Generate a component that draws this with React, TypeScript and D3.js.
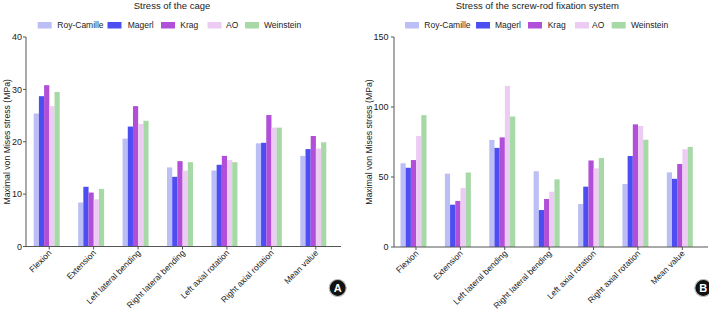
import React from "react";
import * as d3 from "d3";

const categories = [
  "Flexion",
  "Extension",
  "Left lateral bending",
  "Right lateral bending",
  "Left axial rotation",
  "Right axial rotation",
  "Mean value",
];
const seriesNames = ["Roy-Camille", "Magerl", "Krag", "AO", "Weinstein"];
const seriesColors = ["#bcbff5", "#4d4ef2", "#b14fd8", "#ecccf2", "#a6d9a6"];

// Stress of the cage (MPa), per series, per category
const cageRoyCamille = [25.4, 8.4, 20.6, 15.1, 14.5, 19.7, 17.3];
const cageMagerl = [28.7, 11.4, 22.9, 13.3, 15.6, 19.8, 18.6];
const cageKrag = [30.8, 10.3, 26.8, 16.3, 17.3, 25.1, 21.1];
const cageAO = [26.8, 9.0, 23.4, 14.5, 16.5, 22.7, 18.7];
const cageWeinstein = [29.5, 11.0, 24.0, 16.1, 16.1, 22.7, 19.9];

// Stress of the screw-rod fixation system (MPa)
const rodRoyCamille = [59.8, 52.4, 76.5, 54.1, 30.7, 45.0, 53.3];
const rodMagerl = [56.6, 30.2, 70.8, 26.4, 43.1, 65.0, 48.7];
const rodKrag = [62.1, 32.9, 78.3, 34.3, 61.8, 87.6, 59.3];
const rodAO = [79.3, 42.1, 115.1, 39.5, 56.2, 86.4, 69.8];
const rodWeinstein = [94.2, 53.2, 93.2, 48.3, 63.6, 76.6, 71.5];

const cageTicks = [0, 10, 20, 30, 40];
const rodTicks = [0, 50, 100, 150];

const FONT = "'Liberation Sans', Arial, sans-serif";

type PanelProps = {
  title: string;
  titleX: number;
  series: number[][];
  yMax: number;
  yTicks: number[];
  axisX: number;
  axisEnd: number;
  bandRange: [number, number];
  yRange: [number, number];
  legendSwatchX: number[];
  legendTextX: number[];
  yLabelOffset: number;
  tickLabelGap: number;
  badge: string;
  badgeX: number;
};

function Panel(p: PanelProps) {
  const x = d3.scaleBand<string>().domain(categories).range(p.bandRange).padding(0);
  const inner = d3
    .scaleBand<string>()
    .domain(seriesNames)
    .range([-15.5, 10.5])
    .padding(0);
  const y = d3.scaleLinear().domain([0, p.yMax]).range(p.yRange);
  const base = y(0);
  const axisColor = "#555";
  return (
    <g>
      <text
        x={p.titleX}
        y={9}
        textAnchor="middle"
        fontSize={9.5}
        fill="#222"
        fontFamily={FONT}
      >
        {p.title}
      </text>
      {seriesNames.map((s, i) => (
        <g key={s}>
          <rect x={p.legendSwatchX[i]} y={22} width={14} height={6.5} fill={seriesColors[i]} />
          <text
            x={p.legendTextX[i]}
            y={28.2}
            fontSize={8.5}
            fill="#222"
            fontFamily={FONT}
          >
            {s}
          </text>
        </g>
      ))}
      {/* bars */}
      {categories.map((c, ci) => {
        const cx = (x(c) as number) + x.bandwidth() / 2;
        return (
          <g key={c}>
            {seriesNames.map((s, si) => {
              const v = p.series[si][ci];
              return (
                <rect
                  key={s}
                  x={cx + (inner(s) as number)}
                  y={y(v)}
                  width={inner.bandwidth()}
                  height={base - y(v)}
                  fill={seriesColors[si]}
                />
              );
            })}
          </g>
        );
      })}
      {/* y axis */}
      <line x1={p.axisX} x2={p.axisX} y1={y(p.yMax)} y2={base} stroke={axisColor} strokeWidth={1} />
      {p.yTicks.map((t) => (
        <g key={t}>
          <line x1={p.axisX - 3} x2={p.axisX} y1={y(t)} y2={y(t)} stroke={axisColor} />
          <text
            x={p.axisX - p.tickLabelGap}
            y={y(t) + 3.3}
            textAnchor="end"
            fontSize={9}
            fill="#222"
            fontFamily={FONT}
          >
            {t}
          </text>
        </g>
      ))}
      <text
        transform={`translate(${p.axisX - p.yLabelOffset},${(y(p.yMax) + base) / 2}) rotate(-90)`}
        textAnchor="middle"
        fontSize={8.7}
        fill="#222"
        fontFamily={FONT}
      >
        Maximal von Mises stress (MPa)
      </text>
      {/* x axis */}
      <line x1={p.axisX} x2={p.axisEnd} y1={base} y2={base} stroke={axisColor} strokeWidth={1} />
      {categories.map((c) => {
        const cx = (x(c) as number) + x.bandwidth() / 2;
        return (
          <g key={c}>
            <line x1={cx} x2={cx} y1={base} y2={base + 3} stroke={axisColor} />
            <text
              transform={`translate(${cx + 3},${base + 7}) rotate(-45)`}
              textAnchor="end"
              fontSize={8.5}
              fill="#222"
              fontFamily={FONT}
            >
              {c}
            </text>
          </g>
        );
      })}
      <circle cx={p.badgeX} cy={288} r={8.5} fill="#111" stroke="#bbb" strokeWidth={1.2} />
      <text
        x={p.badgeX}
        y={292}
        textAnchor="middle"
        fontSize={11}
        fontWeight="bold"
        fill="#fff"
        fontFamily={FONT}
      >
        {p.badge}
      </text>
    </g>
  );
}

export default function App() {
  return (
    <svg
      width={709}
      height={316}
      style={{ position: "absolute", left: 0, top: 0, background: "#fff" }}
    >
      <rect width={709} height={316} fill="#fff" />
      <Panel
        title="Stress of the cage"
        titleX={172}
        series={[cageRoyCamille, cageMagerl, cageKrag, cageAO, cageWeinstein]}
        yMax={40}
        yTicks={cageTicks}
        axisX={26}
        axisEnd={341}
        bandRange={[27, 338]}
        yRange={[246.5, 37]}
        legendSwatchX={[37.7, 107.5, 161, 207.5, 245]}
        legendTextX={[57.3, 127.7, 180.3, 226, 264]}
        yLabelOffset={16.5}
        tickLabelGap={4}
        badge="A"
        badgeX={337.7}
      />
      <Panel
        title="Stress of the screw-rod fixation system"
        titleX={537.3}
        series={[rodRoyCamille, rodMagerl, rodKrag, rodAO, rodWeinstein]}
        yMax={150}
        yTicks={rodTicks}
        axisX={394}
        axisEnd={708}
        bandRange={[393.8, 704.5]}
        yRange={[247, 37]}
        legendSwatchX={[405, 476, 528, 575, 611.7]}
        legendTextX={[424.3, 495, 547.7, 592, 631]}
        yLabelOffset={22}
        tickLabelGap={5.5}
        badge="B"
        badgeX={703.3}
      />
    </svg>
  );
}
